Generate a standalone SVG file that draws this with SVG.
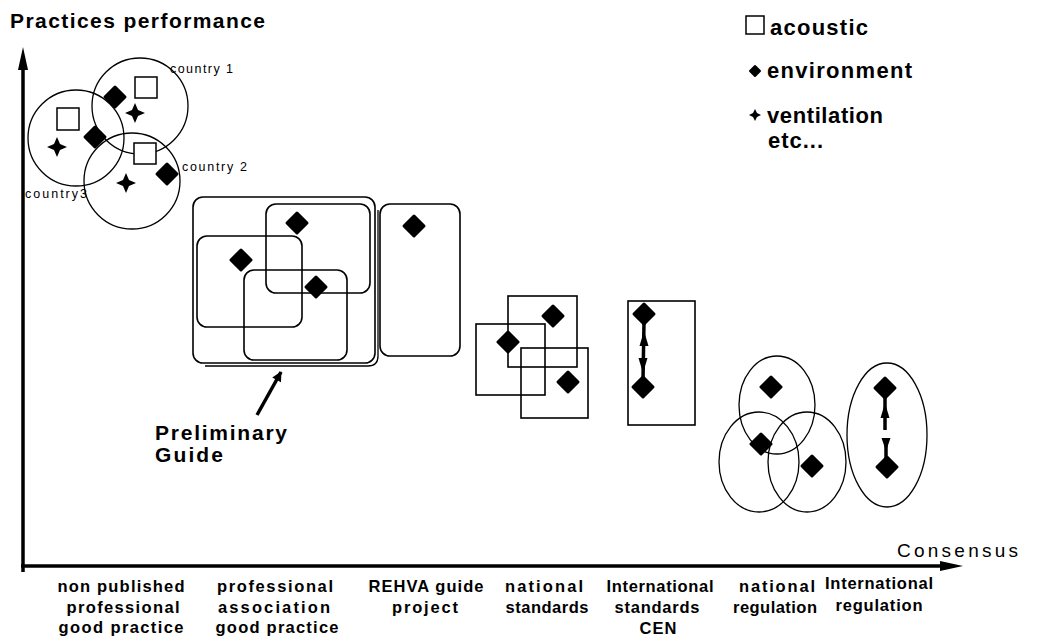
<svg xmlns="http://www.w3.org/2000/svg" width="1045" height="639" viewBox="0 0 1045 639">
<style>
  .thin{fill:none;stroke:#000;stroke-width:1.3}
  .box{fill:none;stroke:#000;stroke-width:1.6}
  .sq{fill:#fff;stroke:#000;stroke-width:1.5}
  .t{font-family:"Liberation Sans",Arial,sans-serif;fill:#000}
  .b{font-weight:bold}
  .ax{stroke:#000;stroke-width:3.5;fill:none}
  .con{stroke:#000;stroke-width:3.5;fill:none}
  .lbl{font-family:"Liberation Sans",Arial,sans-serif;font-weight:bold;font-size:16.5px;text-anchor:middle}
  .cty{font-family:"Liberation Sans",Arial,sans-serif;font-size:12.5px}
  .leg{font-family:"Liberation Sans",Arial,sans-serif;font-weight:bold;font-size:22px}
</style>
<defs>
  <path id="env" d="M0,-10 L10,0 L0,10 L-10,0 Z" fill="#000" stroke="#000" stroke-width="3" stroke-linejoin="round"/>
  <path id="envs" d="M0,-5 L5,0 L0,5 L-5,0 Z" fill="#000" stroke="#000" stroke-width="2" stroke-linejoin="round"/>
  <path id="ven" d="M0,-10 L3,-3 L10,0 L3,3 L0,10 L-3,3 L-10,0 L-3,-3 Z" fill="#000"/>
  <path id="vens" d="M0,-6 L2,-2 L6,0 L2,2 L0,6 L-2,2 L-6,0 L-2,-2 Z" fill="#000"/>
  <marker id="ahb" viewBox="0 0 10 10" refX="9" refY="5" markerWidth="20" markerHeight="10" markerUnits="userSpaceOnUse" orient="auto">
    <path d="M0,0 L10,5 L0,10 Z" fill="#000"/>
  </marker>
</defs>
<rect width="1045" height="639" fill="#fff"/>

<g id="title">
  <text class="t b" x="10" y="28" font-size="21" textLength="255" lengthAdjust="spacing">Practices performance</text>
</g>

<g id="legend">
  <rect class="sq" x="746" y="16" width="18" height="18"/>
  <text class="leg" x="770" y="35" textLength="98" lengthAdjust="spacing">acoustic</text>
  <use href="#envs" x="755" y="71"/>
  <text class="leg" x="767" y="78" textLength="145" lengthAdjust="spacing">environment</text>
  <use href="#vens" x="755" y="115"/>
  <text class="leg" x="767" y="123" textLength="116" lengthAdjust="spacing">ventilation</text>
  <text class="leg" x="768" y="148" textLength="55" lengthAdjust="spacing">etc...</text>
</g>

<g id="axes">
  <line class="ax" x1="23" y1="572" x2="23" y2="62"/>
  <polygon points="23,47 18,70 28,70" fill="#000"/>
  <line class="ax" x1="21" y1="566" x2="945" y2="566"/>
  <polygon points="963,566 940,561 940,571" fill="#000"/>
  <text class="t" x="897" y="557" font-size="19" textLength="121" lengthAdjust="spacing">Consensus</text>
</g>

<g id="non-published">
  <circle class="thin" cx="140" cy="106" r="48"/>
  <circle class="thin" cx="76" cy="138" r="48"/>
  <circle class="thin" cx="132" cy="181" r="48"/>
  <rect class="sq" x="135" y="77" width="22" height="21"/>
  <rect class="sq" x="57" y="108" width="22" height="22"/>
  <rect class="sq" x="134" y="143" width="22" height="21"/>
  <use href="#env" x="115" y="97"/>
  <use href="#env" x="95" y="137"/>
  <use href="#env" x="167" y="174"/>
  <use href="#ven" x="135" y="113"/>
  <use href="#ven" x="57" y="147"/>
  <use href="#ven" x="126" y="183"/>
  <text class="cty" x="170" y="73" textLength="63" lengthAdjust="spacing">country 1</text>
  <text class="cty" x="182" y="171" textLength="65" lengthAdjust="spacing">country 2</text>
  <text class="cty" x="25" y="198" textLength="62" lengthAdjust="spacing">country3</text>
  <text class="lbl" x="121" y="592" textLength="127" lengthAdjust="spacing">non published</text>
  <text class="lbl" x="123" y="613" textLength="113" lengthAdjust="spacing">professional</text>
  <text class="lbl" x="121" y="633" textLength="125" lengthAdjust="spacing">good practice</text>
</g>

<g id="professional">
  <rect class="box" x="193" y="197" width="182" height="166" rx="10"/>
  <path class="thin" d="M378,210 V356 Q378,366 368,366 H205"/>
  <rect class="box" x="266" y="204" width="104" height="89" rx="10"/>
  <rect class="box" x="197" y="236" width="105" height="91" rx="10"/>
  <rect class="box" x="244" y="270" width="103" height="90" rx="10"/>
  <use href="#env" x="297" y="223"/>
  <use href="#env" x="241" y="260"/>
  <use href="#env" x="316" y="287"/>
  <text class="lbl" x="275" y="592" textLength="116" lengthAdjust="spacing">professional</text>
  <text class="lbl" x="274" y="613" textLength="112" lengthAdjust="spacing">association</text>
  <text class="lbl" x="277" y="633" textLength="123" lengthAdjust="spacing">good practice</text>
</g>

<g id="preliminary-guide">
  <text class="t b" x="155" y="440" font-size="21" textLength="132" lengthAdjust="spacing">Preliminary</text>
  <text class="t b" x="155" y="462" font-size="21" textLength="68" lengthAdjust="spacing">Guide</text>
</g>

<g id="rehva">
  <rect class="box" x="380" y="204" width="80" height="152" rx="10"/>
  <use href="#env" x="414" y="226"/>
  <text class="lbl" x="426" y="592" textLength="115" lengthAdjust="spacing">REHVA guide</text>
  <text class="lbl" x="425" y="613" textLength="66" lengthAdjust="spacing">project</text>
</g>

<g id="national-standards">
  <rect class="box" x="508" y="296" width="69" height="71"/>
  <rect class="box" x="476" y="324" width="69" height="71"/>
  <rect class="box" x="521" y="348" width="67" height="70"/>
  <use href="#env" x="553" y="316"/>
  <use href="#env" x="508" y="342"/>
  <use href="#env" x="568" y="382"/>
  <text class="lbl" x="544" y="592" textLength="78" lengthAdjust="spacing">national</text>
  <text class="lbl" x="547" y="613" textLength="83" lengthAdjust="spacing">standards</text>
</g>

<g id="international-standards">
  <rect class="box" x="628" y="301" width="67" height="124"/>
  <use href="#env" x="644" y="314"/>
  <use href="#env" x="643" y="387"/>
  <text class="lbl" x="660" y="592" textLength="107" lengthAdjust="spacing">International</text>
  <text class="lbl" x="657" y="613" textLength="85" lengthAdjust="spacing">standards</text>
  <text class="lbl" x="658" y="634" textLength="37" lengthAdjust="spacing">CEN</text>
</g>

<g id="national-regulation">
  <ellipse class="thin" cx="777" cy="405" rx="38" ry="49"/>
  <ellipse class="thin" cx="759" cy="462" rx="40" ry="50"/>
  <ellipse class="thin" cx="807" cy="462" rx="39" ry="50"/>
  <use href="#env" x="771" y="387"/>
  <use href="#env" x="761" y="444"/>
  <use href="#env" x="812" y="466"/>
  <text class="lbl" x="777" y="592" textLength="76" lengthAdjust="spacing">national</text>
  <text class="lbl" x="775" y="613" textLength="84" lengthAdjust="spacing">regulation</text>
</g>

<g id="international-regulation">
  <ellipse class="thin" cx="887" cy="435" rx="40" ry="72"/>
  <use href="#env" x="885" y="388"/>
  <use href="#env" x="887" y="467"/>
  <text class="lbl" x="879" y="589" textLength="108" lengthAdjust="spacing">International</text>
  <text class="lbl" x="879" y="611" textLength="87" lengthAdjust="spacing">regulation</text>
</g>

<g id="connectors">
  <line class="con" x1="257" y1="415" x2="281" y2="372" marker-end="url(#ahb)"/>
  <line class="con" x1="644" y1="322" x2="643" y2="380"/>
  <polygon points="644,331 639.5,346 648.5,346" fill="#000"/>
  <polygon points="643,373 638.5,358 647.5,358" fill="#000"/>
  <line class="con" x1="885" y1="396" x2="885" y2="430"/>
  <polygon points="885,403 880.5,418 889.5,418" fill="#000"/>
  <line class="con" x1="886" y1="438" x2="886" y2="460"/>
  <polygon points="881.5,438 890.5,438 886,451" fill="#000"/>
</g>
</svg>
